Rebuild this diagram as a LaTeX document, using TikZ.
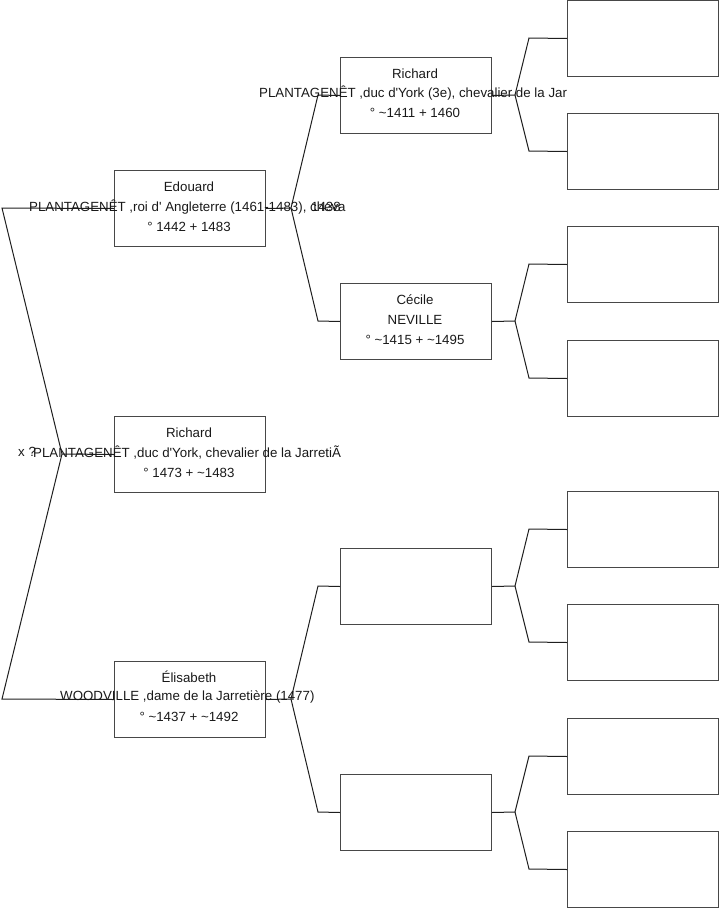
\documentclass[tikz,border=0pt]{standalone}
\usepackage{fontspec}
\setmainfont{Liberation Sans}
\begin{document}
\begin{tikzpicture}[x=1pt,y=-1pt,
  box/.style={draw=black!72, line width=1pt, minimum width=151pt, minimum height=76pt, inner sep=0pt, anchor=north west},
  lnk/.style={draw=black!88, line width=1pt},
  txt/.style={font=\fontsize{13.3}{16}\selectfont, inner sep=0pt, text=black!90},
  txtw/.style={txt, anchor=west}]
\useasboundingbox (0,0) rectangle (719,908);
% generation 1
\node[box] (ed) at (114,170) {};
\node[box] (ri) at (114,416) {};
\node[box] (el) at (114,661) {};
% generation 2
\node[box] (rf) at (340,57) {};
\node[box] (ce) at (340,283) {};
\node[box] (e1) at (340,548) {};
\node[box] (e2) at (340,774) {};
% generation 3
\node[box] (g1) at (567,0) {};
\node[box] (g2) at (567,113) {};
\node[box] (g3) at (567,226) {};
\node[box] (g4) at (567,340) {};
\node[box] (g5) at (567,491) {};
\node[box] (g6) at (567,604) {};
\node[box] (g7) at (567,718) {};
\node[box] (g8) at (567,831) {};
% fork coordinates
\coordinate (lt) at (2,208);
\coordinate (lm) at (62,454);
\coordinate (lb) at (2,699);
\coordinate (fe) at (291,208);
\coordinate (fe1) at (318,95);
\coordinate (fe2) at (318,321);
\coordinate (fl) at (291,699);
\coordinate (fl1) at (318,586);
\coordinate (fl2) at (318,812);
\coordinate (fr) at (515,95);
\coordinate (fr1) at (529,38);
\coordinate (fr2) at (529,151);
\coordinate (fc) at (515,321);
\coordinate (fc1) at (529,264);
\coordinate (fc2) at (529,378);
\coordinate (fa) at (515,586);
\coordinate (fa1) at (529,529);
\coordinate (fa2) at (529,642);
\coordinate (fb) at (515,812);
\coordinate (fb1) at (529,756);
\coordinate (fb2) at (529,869);
% connectors
\draw[lnk] (ed.west) -- (lt) -- (lm) -- (lb) -- (el.west);
\draw[lnk] (lm) -- (ri.west);
\draw[lnk] (ed.east) -- (fe) -- (fe1) -- (rf.west);
\draw[lnk] (fe) -- (fe2) -- (ce.west);
\draw[lnk] (el.east) -- (fl) -- (fl1) -- (e1.west);
\draw[lnk] (fl) -- (fl2) -- (e2.west);
\draw[lnk] (rf.east) -- (fr) -- (fr1) -- (g1.west);
\draw[lnk] (fr) -- (fr2) -- (g2.west);
\draw[lnk] (ce.east) -- (fc) -- (fc1) -- (g3.west);
\draw[lnk] (fc) -- (fc2) -- (g4.west);
\draw[lnk] (e1.east) -- (fa) -- (fa1) -- (g5.west);
\draw[lnk] (fa) -- (fa2) -- (g6.west);
\draw[lnk] (e2.east) -- (fb) -- (fb1) -- (g7.west);
\draw[lnk] (fb) -- (fb2) -- (g8.west);
% texts
\node[txt] (ed1) at (189,187) {Edouard};
\node[txtw] (ed2) at (29,207) {PLANTAGENÊT ,roi d\textquotesingle{} Angleterre (1461-1483), cheva};
\node[txtw] (ed4) at (311,207) {1438};
\node[txt] (ed3) at (189,227) {° 1442 + 1483};
\node[txt] (ri1) at (189,433) {Richard};
\node[txtw] (rix) at (18,452) {x ?};
\node[txtw] (ri2) at (33,453) {PLANTAGENÊT ,duc d\textquotesingle{}York, chevalier de la JarretiÃ};
\node[txt] (ri3) at (189,473) {° 1473 + \textasciitilde1483};
\node[txt] (el1) at (189,677) {Élisabeth};
\node[txtw] (el2) at (60,697) {WOODVILLE ,dame de la Jarretière (1477)};
\node[txt] (el3) at (189,717) {° \textasciitilde1437 + \textasciitilde1492};
\node[txt] (rf1) at (415,74) {Richard};
\node[txtw] (rf2) at (259,93) {PLANTAGENÊT ,duc d\textquotesingle{}York (3e), chevalier de la Jar};
\node[txt] (rf3) at (415,113) {° \textasciitilde1411 + 1460};
\node[txt] (ce1) at (415,300) {Cécile};
\node[txt] (ce2) at (415,320) {NEVILLE};
\node[txt] (ce3) at (415,340) {° \textasciitilde1415 + \textasciitilde1495};
\end{tikzpicture}
\end{document}
